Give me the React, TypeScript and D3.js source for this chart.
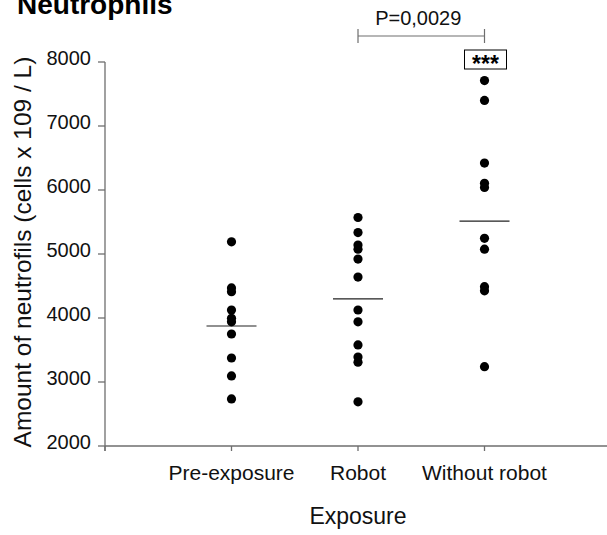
import * as d3 from "d3";

const categories = ["Pre-exposure", "Robot", "Without robot"];
const preExposure = [5190, 4470, 4410, 4125, 3995, 3940, 3750, 3375, 3095, 2735];
const robot = [5570, 5335, 5140, 5075, 4920, 4640, 4125, 3940, 3580, 3390, 3310, 2690];
const withoutRobot = [7710, 7400, 6420, 6105, 6040, 5245, 5075, 4490, 4425, 3240];
const means = [3875, 4300, 5515];
const yTicks = [2000, 3000, 4000, 5000, 6000, 7000, 8000];
const pLabel = "P=0,0029";
const starLabel = "***";

const W = 607;
const H = 535;
const FONT = "Arial, 'Liberation Sans', sans-serif";

export default function App() {
  const series = [preExposure, robot, withoutRobot];

  // slot 0 is the axis origin, categories sit at 1..3
  const x = d3.scaleLinear().domain([0, 4]).range([105, 611]);
  const y = d3.scaleLinear().domain([2000, 8000]).range([446, 62]);

  const x0 = x(0);
  const axisColor = "#6e6e6e";

  // significance bracket between Robot and Without robot
  const bx1 = x(2);
  const bx2 = x(3);
  const by = 36;

  return (
    <svg
      width={W}
      height={H}
      style={{ position: "absolute", left: 0, top: 0, background: "#fff" }}
      fontFamily={FONT}
    >
      {/* title */}
      <text x={17} y={14} fontSize={28} fontWeight="bold" fill="#000">
        Neutrophils
      </text>

      {/* y axis */}
      <line x1={x0} x2={x0} y1={y(8000)} y2={y(2000) + 5} stroke={axisColor} strokeWidth={1.3} />
      {yTicks.map((t) => (
        <g key={t}>
          <line x1={x0 - 7} x2={x0} y1={y(t)} y2={y(t)} stroke={axisColor} strokeWidth={1.3} />
          <text x={91} y={y(t) + 3} textAnchor="end" fontSize={20} fill="#111">
            {t}
          </text>
        </g>
      ))}
      <text
        transform={`translate(31, ${(y(8000) + y(2000)) / 2 - 2}) rotate(-90)`}
        textAnchor="middle"
        fontSize={24.5}
        fill="#111"
      >
        Amount of neutrofils (cells x 109 / L)
      </text>

      {/* x axis */}
      <line x1={x0} x2={W} y1={y(2000)} y2={y(2000)} stroke={axisColor} strokeWidth={1.3} />
      {[0, 1, 2, 3].map((i) => (
        <line key={i} x1={x(i)} x2={x(i)} y1={y(2000)} y2={y(2000) + 5} stroke={axisColor} strokeWidth={1.3} />
      ))}
      {categories.map((c, i) => (
        <text key={c} x={x(i + 1)} y={480} textAnchor="middle" fontSize={21} fill="#111">
          {c}
        </text>
      ))}
      <text x={x(2)} y={524} textAnchor="middle" fontSize={23} fill="#111">
        Exposure
      </text>

      {/* mean lines */}
      {means.map((m, i) => (
        <line
          key={i}
          x1={x(i + 1) - 25}
          x2={x(i + 1) + 25}
          y1={y(m)}
          y2={y(m)}
          stroke="#222"
          strokeWidth={1.2}
        />
      ))}

      {/* points */}
      {series.map((vals, i) =>
        vals.map((v, j) => (
          <circle key={`${i}-${j}`} cx={x(i + 1)} cy={y(v)} r={4.6} fill="#000" />
        ))
      )}

      {/* p-value bracket */}
      <line x1={bx1} x2={bx2} y1={by} y2={by} stroke={axisColor} strokeWidth={1.2} />
      <line x1={bx1} x2={bx1} y1={by - 7} y2={by + 7} stroke={axisColor} strokeWidth={1.2} />
      <line x1={bx2} x2={bx2} y1={by - 7} y2={by + 7} stroke={axisColor} strokeWidth={1.2} />
      <text x={(bx1 + bx2) / 2 - 3} y={25} textAnchor="middle" fontSize={20} fill="#111">
        {pLabel}
      </text>

      {/* significance stars */}
      <rect x={x(3) - 20} y={50} width={42} height={19} fill="#fff" stroke="#000" strokeWidth={1} />
      <text x={x(3) + 1} y={72} textAnchor="middle" fontSize={23} fontWeight="bold" fill="#000">
        {starLabel}
      </text>
    </svg>
  );
}
